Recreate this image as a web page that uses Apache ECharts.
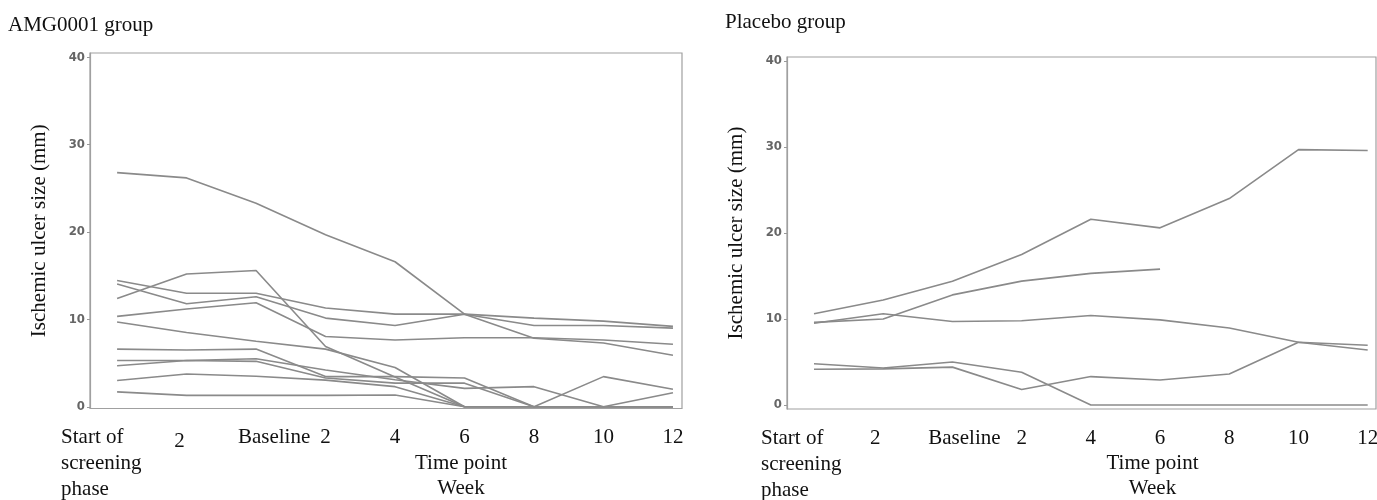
<!DOCTYPE html>
<html>
<head>
<meta charset="utf-8">
<script src="https://cdn.jsdelivr.net/npm/echarts@6/dist/echarts.min.js"></script>
<style>
  html, body { margin: 0; padding: 0; background: #fff; }
  #main { width: 1377px; height: 500px; }
</style>
</head>
<body>
<div id="main"></div>
<script>
// time points: screening start, screening wk 2, baseline, then weeks 2..12
const timeLabels = ["Start of\nscreening\nphase", "2", "Baseline", "2", "4", "6", "8", "10", "12"];
const yTicks = [0, 10, 20, 30, 40];

// AMG0001 group, ulcer size (mm) per patient
const amg1 = [26.8, 26.2, 23.3, 19.7, 16.6, 10.6, 7.85, 7.3, 5.9];
const amg2 = [14.45, 13.0, 13.0, 11.3, 10.6, 10.6, 10.15, 9.8, 9.2];
const amg3 = [14.05, 11.8, 12.6, 10.15, 9.3, 10.6, 9.3, 9.3, 9.0];
const amg4 = [12.4, 15.2, 15.6, 6.9, 3.4, 0, 0, 0, 0];
const amg5 = [10.35, 11.2, 11.9, 8.05, 7.65, 7.9, 7.9, 7.65, 7.15];
const amg6 = [9.7, 8.5, 7.5, 6.6, 4.5, 0, 0, 0, 0];
const amg7 = [6.6, 6.5, 6.6, 3.45, 3.45, 3.3, 0, 3.45, 2.0];
const amg8 = [5.3, 5.3, 5.5, 4.2, 3.1, 2.1, 2.3, 0, 1.6];
const amg9 = [4.7, 5.3, 5.2, 3.3, 2.7, 2.7, 0, 0, 0];
const amg10 = [3.0, 3.75, 3.5, 3.05, 2.3, 0, 0, 0, 0];
const amg11 = [1.7, 1.3, 1.3, 1.3, 1.35, 0, 0, 0, 0];

// Placebo group
const pbo1 = [10.6, 12.2, 14.4, 17.5, 21.6, 20.6, 24.0, 29.7, 29.6];
const pbo2 = [9.6, 10.0, 12.8, 14.4, 15.3, 15.8, null, null, null];
const pbo3 = [9.5, 10.6, 9.7, 9.8, 10.4, 9.9, 8.95, 7.3, 6.4];
const pbo4 = [4.8, 4.3, 5.0, 3.8, 0, 0, 0, 0, 0];
const pbo5 = [4.15, 4.2, 4.4, 1.8, 3.3, 2.9, 3.6, 7.3, 6.95];

const amgGroup = [amg1, amg2, amg3, amg4, amg5, amg6, amg7, amg8, amg9, amg10, amg11];
const pboGroup = [pbo1, pbo2, pbo3, pbo4, pbo5];

const serif = "Liberation Serif, Times New Roman, serif";
const narrow = "Liberation Sans Narrow, DejaVu Sans Condensed, Arial Narrow, sans-serif";

const chart = echarts.init(document.getElementById("main"));

// pad: label nudges in px, the printed figure doesn't centre them exactly
function xAxisFor(gridIndex, min, max, firstWidth, namePad, pad) {
  const txt = { fontFamily: serif, fontSize: 21, lineHeight: 26, color: "#111" };
  return {
    type: "value",
    gridIndex: gridIndex,
    min: min,
    max: max,
    axisLine: { show: false, onZero: false },
    axisTick: { show: false },
    splitLine: { show: false },
    axisLabel: {
      customValues: timeLabels.map((_, i) => i),
      hideOverlap: false,
      showMinLabel: true,
      showMaxLabel: true,
      margin: 16,
      color: "#111",
      fontFamily: serif,
      fontSize: 21,
      lineHeight: 26,
      verticalAlign: "top",
      formatter: function (value) {
        const i = Math.round(value);
        if (i === 0) return "{first|" + timeLabels[0] + "}";
        if (i === 1) return "{scr|" + timeLabels[1] + "}";
        if (i === 2) return "{base|" + timeLabels[2] + "}";
        return timeLabels[i];
      },
      rich: {
        first: Object.assign({ width: firstWidth, align: "left" }, txt),
        scr: Object.assign({ padding: pad.scr }, txt),
        base: Object.assign({ padding: pad.base }, txt)
      }
    },
    name: "Time point\nWeek",
    nameLocation: "middle",
    nameGap: 42,
    nameMoveOverlap: false,
    nameTextStyle: {
      color: "#111",
      fontFamily: serif,
      fontSize: 21,
      lineHeight: 25,
      padding: [0, 0, 0, namePad]
    }
  };
}

function yAxisFor(gridIndex, min, max) {
  return {
    type: "value",
    gridIndex: gridIndex,
    min: min,
    max: max,
    axisLine: { show: true, onZero: false, lineStyle: { color: "#a0a0a0", width: 1.2 } },
    splitLine: { show: false },
    axisTick: {
      show: true,
      customValues: yTicks,
      length: 3,
      lineStyle: { color: "#999" }
    },
    axisLabel: {
      customValues: yTicks,
      margin: 5,
      color: "#666",
      fontFamily: narrow,
      fontWeight: "bold",
      fontSize: 13
    },
    name: "Ischemic ulcer size (mm)",
    nameLocation: "middle",
    nameGap: 40,
    nameMoveOverlap: false,
    nameTextStyle: {
      color: "#111",
      fontFamily: serif,
      fontSize: 21
    }
  };
}

function lineSeries(values, idx) {
  return {
    type: "line",
    xAxisIndex: idx,
    yAxisIndex: idx,
    data: values.map((v, i) => [i, v]).filter((p) => p[1] !== null),
    symbol: "none",
    silent: true,
    lineStyle: { color: "#8a8a8a", width: 1.6 }
  };
}

const option = {
  animation: false,
  backgroundColor: "#fff",
  title: [
    {
      text: "AMG0001 group",
      left: 8,
      top: 15,
      padding: 0,
      textStyle: { fontFamily: serif, fontSize: 21, fontWeight: "normal", color: "#111" }
    },
    {
      text: "Placebo group",
      left: 725,
      top: 12,
      padding: 0,
      textStyle: { fontFamily: serif, fontSize: 21, fontWeight: "normal", color: "#111" }
    }
  ],
  grid: [
    { left: 90, top: 53, width: 592, height: 355.5, outerBoundsMode: "none", show: true, borderColor: "#a0a0a0", borderWidth: 1.2 },
    { left: 787, top: 57, width: 589, height: 352, outerBoundsMode: "none", show: true, borderColor: "#a0a0a0", borderWidth: 1.2 }
  ],
  xAxis: [
    xAxisFor(0, -0.39, 8.13, 112, 150, { scr: [8, 14, 0, 0], base: [0, 0, 0, 36] }),
    xAxisFor(1, -0.39, 8.12, 106, 142, { scr: [0, 16, 0, 0], base: [0, 0, 0, 24] })
  ],
  yAxis: [
    yAxisFor(0, -0.2, 40.5),
    yAxisFor(1, -0.47, 40.47)
  ],
  series: amgGroup.map((s) => lineSeries(s, 0)).concat(pboGroup.map((s) => lineSeries(s, 1)))
};

chart.setOption(option);
</script>
</body>
</html>
